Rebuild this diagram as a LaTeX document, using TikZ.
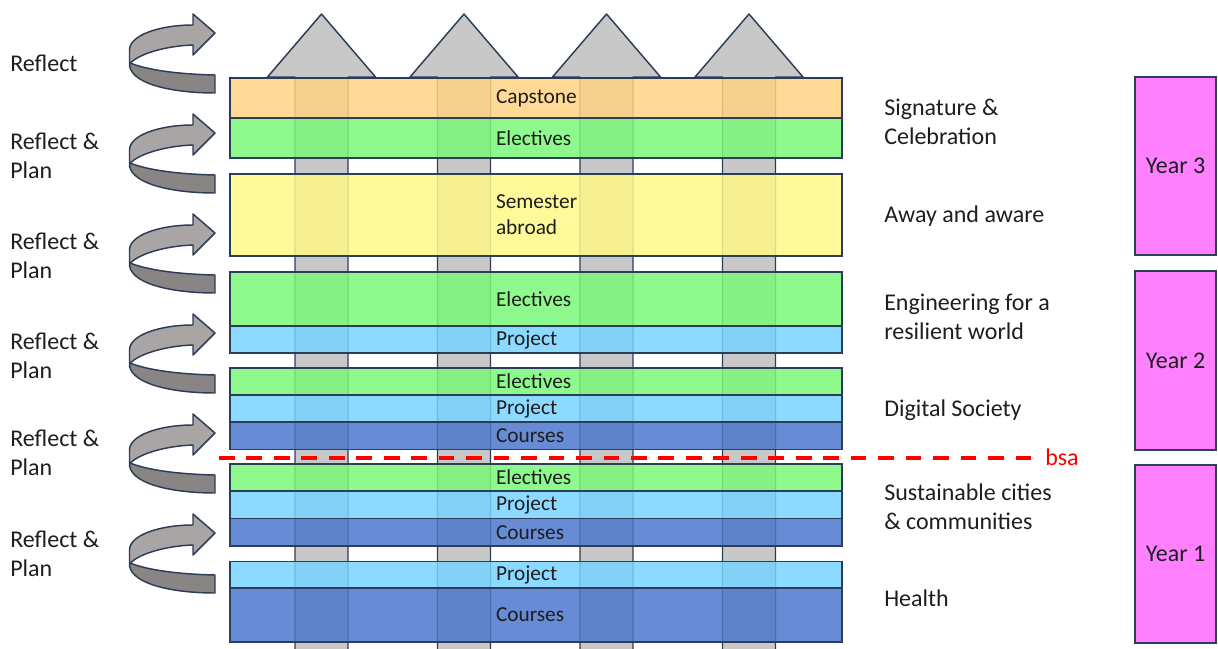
\documentclass[tikz,border=0pt]{standalone}
\usepackage{fontspec}
\setmainfont{Carlito}
\usepackage{xcolor}
\definecolor{capst}{HTML}{FFD283}
\definecolor{elec}{HTML}{7AF97A}
\definecolor{away}{HTML}{FFF888}
\definecolor{proj}{HTML}{78D3FF}
\definecolor{course}{HTML}{4C77CC}
\definecolor{yearc}{HTML}{FF80FF}
\definecolor{rim}{HTML}{2E3D57}
\definecolor{shaft}{HTML}{C8C8C8}
\definecolor{swirltop}{HTML}{A9A5A5}
\definecolor{swirlback}{HTML}{8A8585}
\definecolor{ink}{HTML}{1E1E1E}
\tikzset{
	bar/.style={draw=rim, line width=0.9pt, fill opacity=0.85, text opacity=1, minimum width=459pt, inner sep=0pt, text width=60pt, align=left, text=ink, font=\fontsize{16pt}{19.5pt}\selectfont},
	yearbox/.style={draw=rim, line width=0.9pt, fill=yearc, minimum width=60.75pt, text=ink, font=\fontsize{18pt}{21.75pt}\selectfont},
	side/.style={anchor=west, inner sep=0pt, align=left, text=ink, font=\fontsize{18pt}{21.75pt}\selectfont},
	rimline/.style={draw=rim, line width=1.1pt, line join=round}
}
\begin{document}
\begin{tikzpicture}[x=0.75pt, y=-0.75pt]
	\useasboundingbox (0,0) rectangle (1218,649);
	\foreach \cx in {321.5,464,606.5,749}{
		\fill[shaft] (\cx-26.5,662) -- (\cx-26.5,77) -- (\cx-54,77) -- (\cx,14) -- (\cx+54,77) -- (\cx+26.5,77) -- (\cx+26.5,662) -- cycle;
		\draw[rimline] (\cx-26.5,662) -- (\cx-26.5,77) -- (\cx-54,77) -- (\cx,14) -- (\cx+54,77) -- (\cx+26.5,77) -- (\cx+26.5,662);
	}
	\node[bar, fill=capst, minimum height=30pt] (capstone) at (536,98) {Capstone};
	\node[bar, fill=elec, minimum height=30pt] (elec6) at (536,138) {Electives};
	\node[bar, fill=away, minimum height=61.5pt] (abroad) at (536,215) {Semester\\abroad};
	\node[bar, fill=elec, minimum height=40.5pt] (elec5) at (536,299) {Electives};
	\node[bar, fill=proj, minimum height=20.25pt] (proj4) at (536,339.5) {Project};
	\node[bar, fill=elec, minimum height=20.25pt] (elec4) at (536,381.5) {Electives};
	\node[bar, fill=proj, minimum height=20.25pt] (proj3) at (536,408.5) {Project};
	\node[bar, fill=course, minimum height=20.6pt] (course3) at (536,435.75) {Courses};
	\node[bar, fill=elec, minimum height=20.25pt] (elec2) at (536,477.5) {Electives};
	\node[bar, fill=proj, minimum height=20.6pt] (proj2) at (536,504.75) {Project};
	\node[bar, fill=course, minimum height=20.6pt] (course2) at (536,532.25) {Courses};
	\node[bar, fill=proj, minimum height=20pt] (proj1) at (536,574.75) {Project};
	\node[bar, fill=course, minimum height=40.5pt] (course1) at (536,615) {Courses};
	\foreach \dy in {0,100,...,500}{
		\begin{scope}[shift={(0,\dy)}]
			\filldraw[rimline, fill=swirlback] (130,63) .. controls (145,69) and (172,74) .. (215,75) -- (215,93) .. controls (175,93) and (133,85) .. (129.5,66) -- cycle;
			\filldraw[rimline, fill=swirltop] (129.5,64) -- (129.5,50) .. controls (129.5,35) and (160,25) .. (193,25) -- (193,14) -- (215,33) -- (193,55) -- (193,45) .. controls (165,46) and (138,54) .. (129.5,64) -- cycle;
		\end{scope}
	}
	\node[side] (refl0) at (10,63) {Reflect};
	\node[side] (refl1) at (10,155.5) {Reflect \&\\Plan};
	\node[side] (refl2) at (10,255.5) {Reflect \&\\Plan};
	\node[side] (refl3) at (10,355.5) {Reflect \&\\Plan};
	\node[side] (refl4) at (10,453) {Reflect \&\\Plan};
	\node[side] (refl5) at (10,554) {Reflect \&\\Plan};
	\node[side] (sign) at (884,122) {Signature \&\\Celebration};
	\node[side] (aware) at (884,216) {Away and aware};
	\node[side] (resil) at (884,317) {Engineering for a\\resilient world};
	\node[side] (digi) at (884,410) {Digital Society};
	\node[side] (cities) at (884,507) {Sustainable cities\\\& communities};
	\node[side] (health) at (884,598) {Health};
	\node[yearbox, minimum height=133.5pt] (year3) at (1175.5,166) {Year 3};
	\node[yearbox, minimum height=134.25pt] (year2) at (1175.5,360.5) {Year 2};
	\node[yearbox, minimum height=133.5pt] (year1) at (1175.5,554) {Year 1};
	\coordinate (cutL) at (219,457.5);
	\node[side, text=red, inner xsep=6.75pt] (bsa) at (1036,457.5) {bsa};
	\draw[red, line width=3pt, dash pattern=on 11.8pt off 8.8pt] (cutL) -- (bsa.west);
\end{tikzpicture}
\end{document}
